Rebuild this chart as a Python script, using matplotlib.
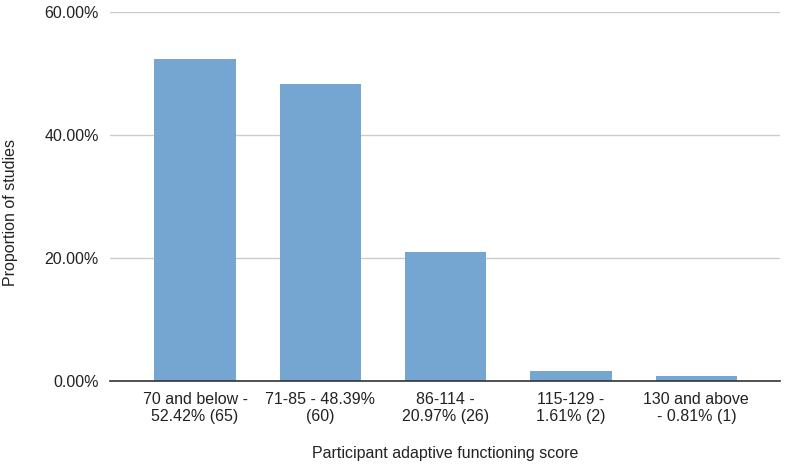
import matplotlib.pyplot as plt
import numpy as np

plt.rcParams['font.family'] = ['Liberation Sans', 'DejaVu Sans']

# data
categories = ['70 and below -\n52.42% (65)', '71-85 - 48.39%\n(60)', '86-114 -\n20.97% (26)',
              '115-129 -\n1.61% (2)', '130 and above\n- 0.81% (1)']
values = [52.42, 48.39, 20.97, 1.61, 0.81]
yticks = [0, 20, 40, 60]

bar_col = '#74a6d1'

fig = plt.figure(figsize=(7.85, 4.7), dpi=100)
ax = fig.add_axes([0.140, 0.189, 0.854, 0.785])

x = np.arange(len(values))
ax.bar(x, values, width=0.65, color=bar_col, zorder=3)

ax.set_ylim(0, 60)
ax.set_xlim(-0.68, 4.67)
ax.set_yticks(yticks)
ax.set_yticklabels(['%.2f%%' % v for v in yticks])
ax.set_xticks(x)
ax.set_xticklabels(categories, linespacing=1.15)
ax.tick_params(axis='both', length=0, labelsize=11.5, colors='#222222')
ax.tick_params(axis='y', pad=8)
ax.tick_params(axis='x', pad=8)

ax.grid(axis='y', color='#cccccc', lw=1, zorder=0)
for s in ['top', 'right', 'left']:
    ax.spines[s].set_visible(False)
ax.spines['bottom'].set_color('#333333')
ax.spines['bottom'].set_linewidth(1.2)
ax.spines['bottom'].set_zorder(4)

ax.set_xlabel('Participant adaptive functioning score', fontsize=11.5, color='#222222', labelpad=16)
ax.set_ylabel('Proportion of studies', fontsize=11.5, color='#222222', va='center')
ax.yaxis.set_label_coords(-0.148, 0.458)

plt.savefig('out.png', dpi=100)
